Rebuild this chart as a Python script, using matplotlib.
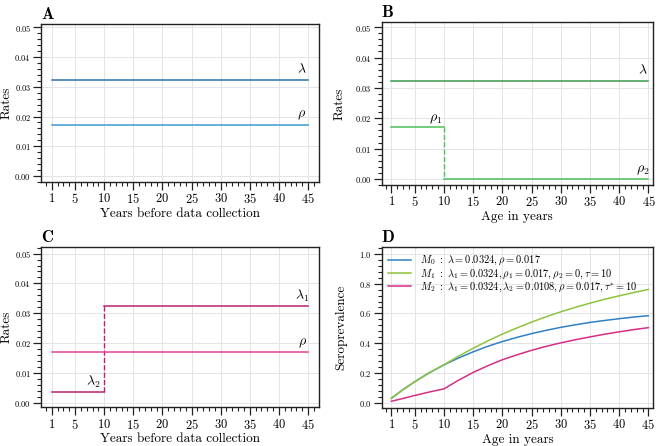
import matplotlib
matplotlib.use("Agg")
import matplotlib.pyplot as plt
from matplotlib.ticker import MultipleLocator, FixedLocator

plt.rcParams['font.family'] = 'serif'
plt.rcParams['font.serif'] = ['cmr10', 'DejaVu Serif']
plt.rcParams['mathtext.fontset'] = 'cm'
plt.rcParams['axes.formatter.use_mathtext'] = True

# ---- data ----
x_ticks = [1, 5, 10, 15, 20, 25, 30, 35, 40, 45]
year_start, year_break, year_end = 1, 10, 45

# Panel A
a_lambda = 0.0324
a_rho = 0.017
# Panel B
b_lambda = 0.0324
b_rho1 = 0.017
b_rho2 = 0.0
# Panel C
c_lambda1 = 0.0324
c_lambda2 = 0.0036
c_rho = 0.017

# Panel D
ages_D = [1, 3, 5, 7.5, 10, 12.5, 15, 17.5, 20, 22.5, 25, 27.5, 30, 32.5, 35, 37.5, 40, 42.5, 45]
m0 = [0.032, 0.090, 0.143, 0.203, 0.256, 0.302, 0.343, 0.380, 0.412, 0.440, 0.465, 0.487,
      0.507, 0.524, 0.540, 0.553, 0.565, 0.576, 0.585]
m1 = [0.032, 0.090, 0.143, 0.203, 0.256, 0.314, 0.367, 0.416, 0.462, 0.503, 0.542, 0.578,
      0.611, 0.641, 0.669, 0.695, 0.718, 0.740, 0.761]
m2 = [0.012, 0.031, 0.051, 0.074, 0.095, 0.153, 0.205, 0.250, 0.290, 0.323, 0.353, 0.380,
      0.403, 0.424, 0.443, 0.461, 0.477, 0.492, 0.505]
legend_labels = [
    r'$M_0\ :\ \lambda = 0.0324, \rho = 0.017$',
    r'$M_1\ :\ \lambda_1 = 0.0324, \rho_1 = 0.017, \rho_2 = 0, \mathrm{\tau} = 10$',
    r'$M_2\ :\ \lambda_1 = 0.0324, \lambda_2 = 0.0108, \rho = 0.017, \mathrm{\tau}^{*} = 10$',
]

blue_dark = '#2a6fad'
blue_light = '#3b9ad2'
green_dark = '#3a9a4a'
green_light = '#4cc05a'
mag_dark = '#b8206f'
mag_light = '#e0449a'
col_m0 = '#2f80c4'
col_m1 = '#8cc43c'
col_m2 = '#d42e85'

fig = plt.figure(figsize=(6.62, 4.46), dpi=100)

pos = {
    'A': [0.0624, 0.592, 0.4196, 0.3535],
    'B': [0.5766, 0.5852, 0.4091, 0.3655],
    'C': [0.0624, 0.0868, 0.4196, 0.3587],
    'D': [0.5766, 0.0852, 0.4103, 0.3603],
}


def style(ax, letter, xlabel, ylabel, ylim, ymajor, yminor, xlim, ylab_x):
    ax.set_xlim(*xlim)
    ax.set_ylim(*ylim)
    ax.xaxis.set_major_locator(FixedLocator(x_ticks))
    ax.xaxis.set_minor_locator(MultipleLocator(1))
    ax.yaxis.set_major_locator(MultipleLocator(ymajor))
    ax.yaxis.set_minor_locator(MultipleLocator(yminor))
    ax.tick_params(axis='both', which='major', direction='out', length=5.5, width=0.9, color='#222222')
    ax.tick_params(axis='both', which='minor', direction='out', length=3, width=0.8, color='#222222')
    ax.tick_params(axis='x', which='major', labelsize=9, pad=2)
    ax.tick_params(axis='y', which='major', labelsize=6, pad=2)
    ax.grid(True, which='major', color='#e3e3e8', linewidth=0.7)
    ax.set_axisbelow(True)
    for s in ax.spines.values():
        s.set_linewidth(1.0)
        s.set_color('#222222')
    ax.set_xlabel(xlabel, fontsize=9.5, labelpad=1)
    ax.set_ylabel(ylabel, fontsize=9.5)
    ax.yaxis.set_label_coords(ylab_x, 0.5)
    ax.text(0.0, 1.015, letter, transform=ax.transAxes, fontsize=12,
            fontfamily='cmb10', ha='left', va='bottom')


# Panel A
axA = fig.add_axes(pos['A'])
axA.plot([year_start, year_end], [a_lambda, a_lambda], color=blue_dark, lw=1.1)
axA.plot([year_start, year_end], [a_rho, a_rho], color=blue_light, lw=1.1)
axA.text(43.9, a_lambda + 0.0012, r'$\lambda$', fontsize=10, ha='center', va='bottom')
axA.text(43.9, a_rho + 0.0012, r'$\rho$', fontsize=10, ha='center', va='bottom')
style(axA, 'A', 'Years before data collection', 'Rates', (-0.002, 0.051), 0.01, 0.002,
      (-0.8, 46.9), -0.102)

# Panel B
axB = fig.add_axes(pos['B'])
axB.plot([year_start, year_end], [b_lambda, b_lambda], color=green_dark, lw=1.1)
axB.plot([year_start, year_break], [b_rho1, b_rho1], color=green_light, lw=1.1)
axB.plot([year_break, year_end], [b_rho2, b_rho2], color=green_light, lw=1.1)
axB.plot([year_break, year_break], [b_rho1, b_rho2], color=green_light, lw=1.0, ls='--')
axB.text(44.0, b_lambda + 0.0012, r'$\lambda$', fontsize=10, ha='center', va='bottom')
axB.text(8.6, b_rho1 + 0.0006, r'$\rho_1$', fontsize=10, ha='center', va='bottom')
axB.text(44.0, b_rho2 + 0.0006, r'$\rho_2$', fontsize=10, ha='center', va='bottom')
style(axB, 'B', 'Age in years', 'Rates', (-0.002, 0.0517), 0.01, 0.002, (-0.65, 45.7), -0.132)

# Panel C
axC = fig.add_axes(pos['C'])
axC.plot([year_break, year_end], [c_lambda1, c_lambda1], color=mag_dark, lw=1.1)
axC.plot([year_start, year_break], [c_lambda2, c_lambda2], color=mag_dark, lw=1.1)
axC.plot([year_break, year_break], [c_lambda2, c_lambda1], color=mag_dark, lw=1.0, ls='--')
axC.plot([year_start, year_end], [c_rho, c_rho], color=mag_light, lw=1.1)
axC.text(44.0, c_lambda1 + 0.0008, r'$\lambda_1$', fontsize=10, ha='center', va='bottom')
axC.text(44.0, c_rho + 0.0008, r'$\rho$', fontsize=10, ha='center', va='bottom')
axC.text(8.2, c_lambda2 + 0.0006, r'$\lambda_2$', fontsize=10, ha='center', va='bottom')
style(axC, 'C', 'Years before data collection', 'Rates', (-0.0015, 0.0521), 0.01, 0.002,
      (-0.8, 46.9), -0.102)

# Panel D
axD = fig.add_axes(pos['D'])
axD.plot(ages_D, m0, color=col_m0, lw=1.1, label=legend_labels[0])
axD.plot(ages_D, m1, color=col_m1, lw=1.1, label=legend_labels[1])
axD.plot(ages_D, m2, color=col_m2, lw=1.1, label=legend_labels[2])
style(axD, 'D', 'Age in years', 'Seroprevalence', (-0.033, 1.043), 0.2, 0.04, (-0.65, 45.85), -0.128)
axD.legend(loc='upper left', frameon=False, fontsize=7.5, handlelength=2.2,
           labelspacing=0.0, borderaxespad=0.25, handletextpad=0.8)

fig.savefig('out.png', dpi=100)
